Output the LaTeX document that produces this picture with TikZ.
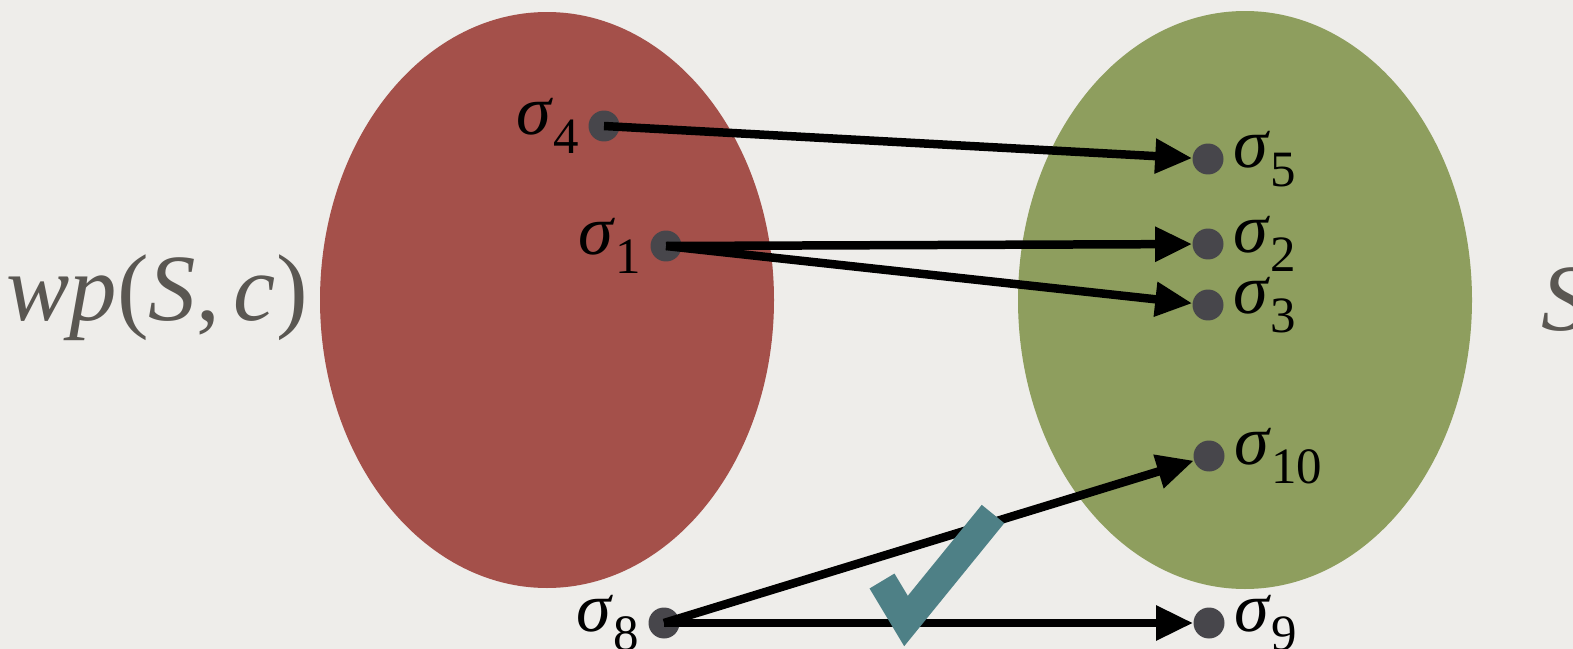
\documentclass[tikz,border=0pt]{standalone}
\usepackage{fontspec}
\setmainfont{Liberation Serif}
\usetikzlibrary{positioning,arrows.meta}
\definecolor{paper}{HTML}{EEEDEA}
\definecolor{setred}{HTML}{A4504A}
\definecolor{setgreen}{HTML}{8E9E5E}
\definecolor{dotgray}{HTML}{47464B}
\definecolor{checkteal}{HTML}{4E8086}
\definecolor{textgray}{HTML}{5A5752}
% a state sigma with a lowered index
\newcommand{\st}[1]{\textit{σ}\raisebox{-0.28em}{\fontsize{29pt}{29pt}\selectfont #1}}

\begin{document}
\begin{tikzpicture}[
        x=0.02cm, y=-0.02cm,
        dot/.style={circle, fill=dotgray, minimum size=0.62cm, inner sep=0pt},
        lbl/.style={inner sep=0pt, font=\fontsize{40pt}{42pt}\selectfont},
        big/.style={inner sep=0pt, text=textgray, font=\fontsize{54pt}{56pt}\selectfont},
        arr/.style={-{Triangle[length=0.74cm,width=0.66cm]}, line width=0.17cm},
        node distance=0.18cm
    ]
        \useasboundingbox (0,0) rectangle (1573,649);
        \clip (0,0) rectangle (1573,649);
        \fill[paper] (0,0) rectangle (1573,649);

        % the two sets
        \fill[setred]   (547,300) ellipse [x radius=227, y radius=288];
        \fill[setgreen] (1245,300) ellipse [x radius=227, y radius=289];
        \node[big] (pre)  at (157,298) {\textit{wp}(\textit{S},\kern0.15em\textit{c})};
        \node[big] (post) at (1565,300) {\textit{S}};

        % states
        \node[dot] (s4)  at (604,126) {};
        \node[dot] (s1)  at (666,246) {};
        \node[dot] (s8)  at (664,623) {};
        \node[dot] (s5)  at (1208,159) {};
        \node[dot] (s2)  at (1208,244) {};
        \node[dot] (s3)  at (1208,305) {};
        \node[dot] (s10) at (1209,456) {};
        \node[dot] (s9)  at (1209,623) {};

        \node[lbl, left=of s4]   {\st{4}};
        \node[lbl, left=of s1]   {\st{1}};
        \node[lbl, left=of s8]   {\st{8}};
        \node[lbl, right=of s5]  {\st{5}};
        \node[lbl, right=of s2]  {\st{2}};
        \node[lbl, right=of s3]  {\st{3}};
        \node[lbl, right=of s10] {\st{10}};
        \node[lbl, right=of s9]  {\st{9}};

        \draw[arr] (s4.center) -- (s5);
        \draw[arr] (s1.center) -- (s2);
        \draw[arr] (s1.center) -- (s3);
        \draw[arr] (s8.center) -- (s10);
        \draw[arr] (s8.center) -- (s9);

        % tick over the lower arrows
        \draw[checkteal, line width=0.58cm, line join=miter] (882,581) -- (906,621) -- (993,514);
    \end{tikzpicture}
\end{document}
